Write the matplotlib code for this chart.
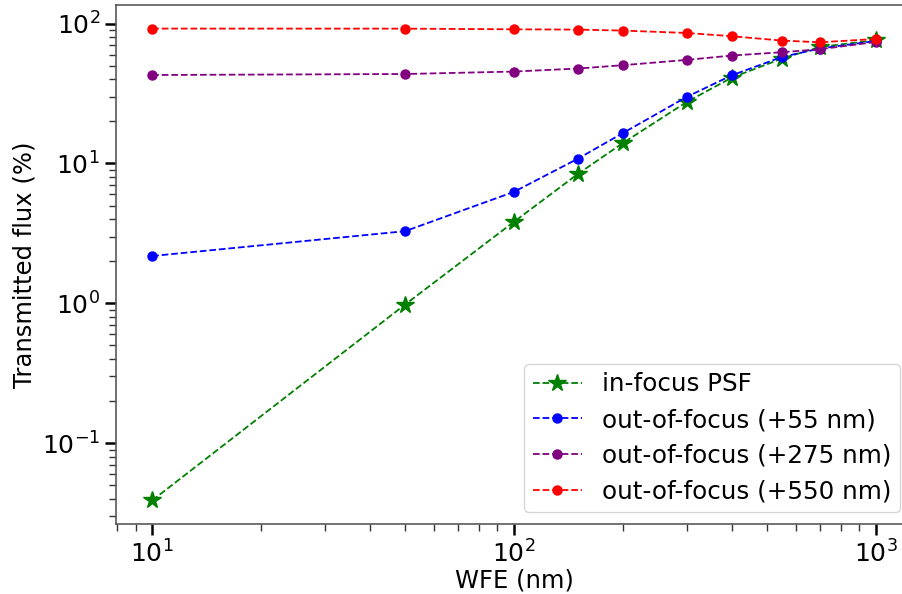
import matplotlib
matplotlib.use('Agg')
import matplotlib.pyplot as plt

# Данные
wfe = [10, 50, 100, 150, 200, 300, 400, 550, 700, 1000]
in_focus = [0.039, 0.98, 3.83, 8.4, 14.0, 27.5, 41.1, 56.2, 68.1, 76.0]
oof_55 = [2.18, 3.28, 6.27, 10.8, 16.5, 29.9, 42.7, 57.7, 66.3, 75.1]
oof_275 = [42.9, 43.6, 45.4, 47.7, 50.4, 55.0, 59.1, 62.4, 65.5, 73.9]
oof_550 = [92.1, 92.0, 91.0, 90.6, 89.1, 85.7, 81.2, 75.6, 73.5, 77.6]

labels = ['in-focus PSF', 'out-of-focus (+55 nm)',
          'out-of-focus (+275 nm)', 'out-of-focus (+550 nm)']

plt.rcParams['font.family'] = ['DejaVu Sans']

fig = plt.figure(figsize=(9.02, 5.94), dpi=100)
ax = fig.add_axes([0.1286, 0.1178, 0.8825, 0.8738])

ax.plot(wfe, in_focus, linestyle='--', color='green', marker='*', markersize=13,
        linewidth=1.3, label=labels[0])
ax.plot(wfe, oof_55, linestyle='--', color='blue', marker='o', markersize=6.5,
        linewidth=1.3, label=labels[1])
ax.plot(wfe, oof_275, linestyle='--', color='purple', marker='o', markersize=6.5,
        linewidth=1.3, label=labels[2])
ax.plot(wfe, oof_550, linestyle='--', color='red', marker='o', markersize=6.5,
        linewidth=1.3, label=labels[3])

ax.set_xscale('log')
ax.set_yscale('log')
ax.set_xlabel('WFE (nm)', fontsize=17.5, labelpad=1)
ax.set_ylabel('Transmitted flux (%)', fontsize=17.5, labelpad=4)

ax.tick_params(which='major', labelsize=18, length=8, width=1.8, color='black')
ax.tick_params(which='minor', length=5, width=1.0, color='0.2')
for s in ax.spines.values():
    s.set_color('0.35')
    s.set_linewidth(1.2)

ax.legend(loc='lower right', fontsize=17.7, handlelength=2.0,
          borderpad=0.35, labelspacing=0.47, handletextpad=0.8)

fig.savefig('out.png', dpi=100)
